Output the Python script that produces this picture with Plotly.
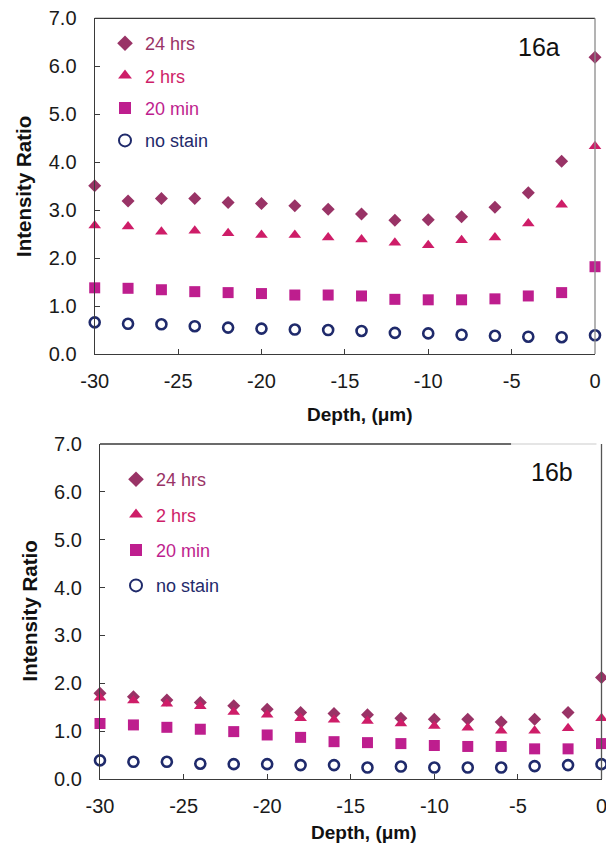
import plotly.graph_objects as go

depth = [-30, -28, -26, -24, -22, -20, -18, -16, -14, -12, -10, -8, -6, -4, -2, 0]

# Figure 16a
a_24h = [3.51, 3.19, 3.24, 3.24, 3.16, 3.14, 3.09, 3.02, 2.92, 2.79, 2.80, 2.86, 3.06, 3.36, 4.02, 6.19]
a_2h = [2.68, 2.66, 2.55, 2.57, 2.52, 2.48, 2.48, 2.43, 2.39, 2.32, 2.27, 2.37, 2.43, 2.72, 3.11, 4.33]
a_20m = [1.38, 1.37, 1.34, 1.30, 1.28, 1.26, 1.23, 1.23, 1.21, 1.14, 1.13, 1.13, 1.15, 1.21, 1.28, 1.82]
a_none = [0.66, 0.63, 0.62, 0.58, 0.55, 0.53, 0.51, 0.50, 0.48, 0.44, 0.43, 0.40, 0.38, 0.36, 0.35, 0.39]

# Figure 16b
b_24h = [1.79, 1.72, 1.65, 1.60, 1.53, 1.46, 1.39, 1.37, 1.34, 1.27, 1.25, 1.25, 1.19, 1.25, 1.39, 2.12]
b_2h = [1.70, 1.64, 1.57, 1.52, 1.40, 1.34, 1.27, 1.24, 1.21, 1.16, 1.11, 1.07, 1.01, 1.01, 1.06, 1.27]
b_20m = [1.16, 1.13, 1.08, 1.04, 0.99, 0.92, 0.87, 0.78, 0.76, 0.74, 0.70, 0.68, 0.68, 0.63, 0.63, 0.74]
b_none = [0.39, 0.36, 0.36, 0.32, 0.31, 0.31, 0.29, 0.29, 0.24, 0.26, 0.24, 0.24, 0.24, 0.27, 0.29, 0.31]

series_names = ["24 hrs", "2 hrs", "20 min", "no stain"]
x_tick_vals = [-30, -25, -20, -15, -10, -5, 0]
x_tick_text = ["-30", "-25", "-20", "-15", "-10", "-5", "0"]

colors = ["#993366", "#CE1D68", "#BE1E8E", "#1F2A6B"]
symbols = ["diamond", "triangle-up", "square", "circle-open"]
sizes = [10, 11, 11, 10]

FONT = "Liberation Sans, Arial, sans-serif"
W, H = 606, 845

fig = go.Figure()

panels = [
    ("x", "y", "legend", [a_24h, a_2h, a_20m, a_none]),
    ("x2", "y2", "legend2", [b_24h, b_2h, b_20m, b_none]),
]
for xa, ya, lg, data in panels:
    for i, vals in enumerate(data):
        marker = dict(symbol=symbols[i], size=sizes[i], color=colors[i])
        if symbols[i] == "circle-open":
            marker["line"] = dict(width=2.6, color=colors[i])
        fig.add_trace(go.Scatter(
            x=depth, y=vals, mode="markers", xaxis=xa, yaxis=ya,
            name=f"<span style='color:{colors[i]}'>{series_names[i]}</span>",
            legendgroup=f"{lg}_{i}", legend=lg, marker=marker, cliponaxis=False,
        ))

def px_x(p):
    return p / W

def px_y(p):
    return 1 - p / H

top_dom_x = [px_x(94.7), px_x(595)]
top_dom_y = [px_y(354), px_y(18.3)]
bot_dom_x = [px_x(100), px_x(601.5)]
bot_dom_y = [px_y(779), px_y(444)]

def xaxis_style(standoff):
    return dict(range=[-30, 0], tickmode="array", tickvals=x_tick_vals, ticktext=x_tick_text,
                showgrid=False, zeroline=False, automargin=False, ticklabeloverflow="allow",
                showline=True, linecolor="#3a3a3a", linewidth=1.3,
                ticks="inside", ticklen=5, tickcolor="#3a3a3a",
                tickfont=dict(family=FONT, size=20, color="#1a1a1a"),
                ticklabelstandoff=standoff)

def yaxis_style(standoff):
    return dict(range=[0, 7], dtick=1, tick0=0, tickformat=".1f", showgrid=False, zeroline=False,
                automargin=False, ticklabeloverflow="allow",
                showline=True, linecolor="#3a3a3a", linewidth=1.3,
                ticks="inside", ticklen=5, tickcolor="#3a3a3a",
                tickfont=dict(family=FONT, size=20, color="#1a1a1a"),
                ticklabelstandoff=standoff)

fig.update_layout(
    width=W, height=H, margin=dict(l=0, r=0, t=0, b=0, autoexpand=False),
    paper_bgcolor="white", plot_bgcolor="white",
    xaxis=dict(domain=top_dom_x, anchor="y", **xaxis_style(9)),
    yaxis=dict(domain=top_dom_y, anchor="x", **yaxis_style(13)),
    xaxis2=dict(domain=bot_dom_x, anchor="y2", **xaxis_style(9)),
    yaxis2=dict(domain=bot_dom_y, anchor="x2", **yaxis_style(13)),
    legend=dict(x=px_x(105), y=px_y(25), xanchor="left", yanchor="top",
                bgcolor="rgba(0,0,0,0)", font=dict(family=FONT, size=18),
                tracegroupgap=6, itemsizing="constant"),
    legend2=dict(x=px_x(116), y=px_y(461), xanchor="left", yanchor="top",
                 bgcolor="rgba(0,0,0,0)", font=dict(family=FONT, size=18),
                 tracegroupgap=9, itemsizing="constant"),
    showlegend=True,
)

# frame lines (top and right borders)
fig.add_shape(type="line", xref="x domain", yref="y domain", x0=0, x1=1, y0=1, y1=1,
              line=dict(color="#3a3a3a", width=1.3))
fig.add_shape(type="line", xref="x domain", yref="y domain", x0=1, x1=1, y0=0, y1=1,
              line=dict(color="#8a8a8a", width=1.3))
fig.add_shape(type="line", xref="x2 domain", yref="y2 domain", x0=0, x1=0.82, y0=1, y1=1,
              line=dict(color="#3a3a3a", width=1.3))
fig.add_shape(type="line", xref="x2 domain", yref="y2 domain", x0=0.82, x1=0.99, y0=1, y1=1,
              line=dict(color="#dddddd", width=1.3))
fig.add_shape(type="line", xref="x2 domain", yref="y2 domain", x0=1, x1=1, y0=0, y1=1,
              line=dict(color="#555555", width=1.3))

ann_title = dict(family=FONT, size=19, color="#111111")
ann_ytitle = dict(family=FONT, size=20.5, color="#111111")
common_ann = dict(xref="paper", yref="paper", showarrow=False, xanchor="center", yanchor="middle")
fig.add_annotation(text="<b>Depth, (μm)</b>", x=px_x(360), y=px_y(414), font=ann_title, **common_ann)
fig.add_annotation(text="<b>Depth, (μm)</b>", xref="paper", yref="paper", showarrow=False,
                   xanchor="center", yanchor="bottom", x=px_x(364), y=0, font=ann_title)
fig.add_annotation(text="<b>Intensity Ratio</b>", x=px_x(24), y=px_y(187), textangle=-90,
                   font=ann_ytitle, **common_ann)
fig.add_annotation(text="<b>Intensity Ratio</b>", x=px_x(28.5), y=px_y(611), textangle=-90,
                   font=ann_ytitle, **common_ann)
fig.add_annotation(text="16a", x=px_x(539), y=px_y(47),
                   font=dict(family=FONT, size=25, color="#111111"), **common_ann)
fig.add_annotation(text="16b", x=px_x(552), y=px_y(472),
                   font=dict(family=FONT, size=25, color="#111111"), **common_ann)

fig.write_html("out.html")
